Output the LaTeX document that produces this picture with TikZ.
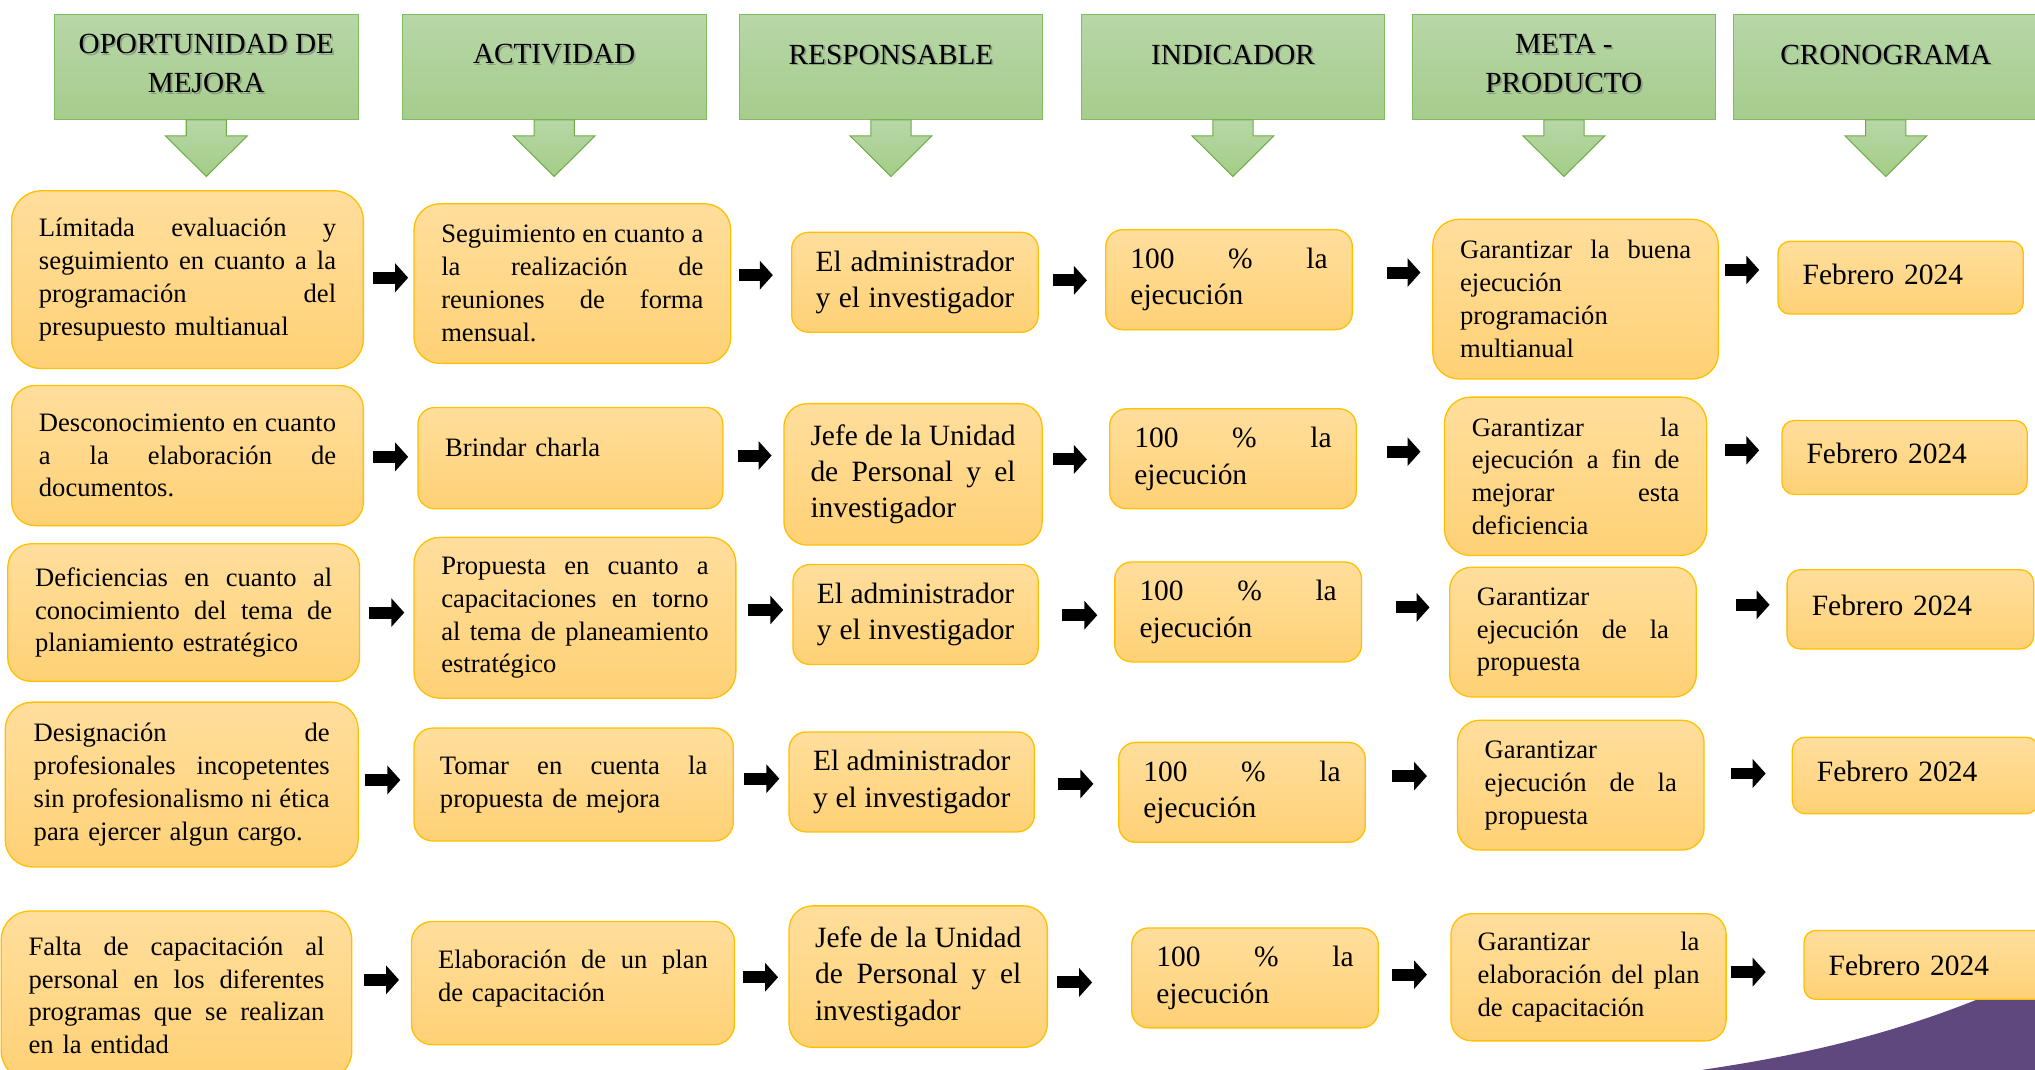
\documentclass[tikz,border=0pt]{standalone}
\usepackage{fontspec}
\setmainfont{Liberation Serif}
\usetikzlibrary{arrows.meta}
\definecolor{hdrtop}{RGB}{183,215,167}
\definecolor{hdrbot}{RGB}{166,204,141}
\definecolor{hdrline}{RGB}{128,188,98}
\definecolor{arrfill}{RGB}{163,205,134}
\definecolor{arrline}{RGB}{112,173,71}
\definecolor{boxtop}{RGB}{255,222,156}
\definecolor{boxbot}{RGB}{255,209,118}
\definecolor{boxline}{RGB}{255,192,0}
\definecolor{deco}{RGB}{94,72,125}
\hyphenpenalty=10000
\exhyphenpenalty=10000
\newcommand{\jl}[1]{\makebox[\hsize][s]{\spaceskip=0.25em plus 1fil minus 0.08em\relax #1}\\}
\newcommand{\jlast}[1]{\makebox[\hsize][s]{\spaceskip=0.25em plus 1fil minus 0.08em\relax #1}}
\begin{document}
\begin{tikzpicture}[x=1pt,y=-1pt,
  hdr/.style={draw=hdrline, line width=0.8pt, top color=hdrtop, bottom color=hdrbot, minimum width=234pt, minimum height=81pt, inner sep=0pt},
  hdrtxt/.style={align=center, font=\fontsize{22.5}{30}\selectfont},
  hdrshd/.style={hdrtxt, text=black!55, opacity=0.55},
  down/.style={draw=arrline, line width=0.8pt, top color=hdrtop, bottom color=arrfill},
  obox/.style={draw=boxline, line width=1pt, top color=boxtop, bottom color=boxbot, inner sep=0pt, align=left, font=\fontsize{20.5}{25.3}\selectfont},
  bigtxt/.style={font=\fontsize{22.7}{28}\selectfont},
  conn/.style={line width=9.2pt, -{Triangle[length=10pt,width=21.6pt]}}]
\useasboundingbox (0,0) rectangle (1568,824);
\clip (0,0) rectangle (1568,824);
% fondo
\fill[deco] (1300,826) .. controls (1400,812) and (1480,792) .. (1570,750) -- (1570,826) -- cycle;
% encabezados
\node[hdr] (h1) at (159,51.5) {};
\node[hdr] (h2) at (427,51.5) {};
\node[hdr] (h3) at (686.5,51.5) {};
\node[hdr] (h4) at (950,51.5) {};
\node[hdr] (h5) at (1205,51.5) {};
\node[hdr] (h6) at (1453,51.5) {};
\draw[down] ([xshift=-15.5pt]h1.south) -- ++(0,12.3) -- ++(-16,0) -- ++(31.5,31.3) -- ++(31.5,-31.3) -- ++(-16,0) -- ++(0,-12.3) -- cycle;
\draw[down] ([xshift=-15.5pt]h2.south) -- ++(0,12.3) -- ++(-16,0) -- ++(31.5,31.3) -- ++(31.5,-31.3) -- ++(-16,0) -- ++(0,-12.3) -- cycle;
\draw[down] ([xshift=-15.5pt]h3.south) -- ++(0,12.3) -- ++(-16,0) -- ++(31.5,31.3) -- ++(31.5,-31.3) -- ++(-16,0) -- ++(0,-12.3) -- cycle;
\draw[down] ([xshift=-15.5pt]h4.south) -- ++(0,12.3) -- ++(-16,0) -- ++(31.5,31.3) -- ++(31.5,-31.3) -- ++(-16,0) -- ++(0,-12.3) -- cycle;
\draw[down] ([xshift=-15.5pt]h5.south) -- ++(0,12.3) -- ++(-16,0) -- ++(31.5,31.3) -- ++(31.5,-31.3) -- ++(-16,0) -- ++(0,-12.3) -- cycle;
\draw[down] ([xshift=-15.5pt]h6.south) -- ++(0,12.3) -- ++(-16,0) -- ++(31.5,31.3) -- ++(31.5,-31.3) -- ++(-16,0) -- ++(0,-12.3) -- cycle;
\node[hdrshd] (s1) at (160.3,50.5) {OPORTUNIDAD DE\\MEJORA};
\node[hdrshd] (s2) at (428.3,43.5) {ACTIVIDAD};
\node[hdrshd] (s3) at (687.8,43.5) {RESPONSABLE};
\node[hdrshd] (s4) at (951.3,43.5) {INDICADOR};
\node[hdrshd] (s5) at (1206.3,50.5) {META -\\PRODUCTO};
\node[hdrshd] (s6) at (1454.3,43.5) {CRONOGRAMA};
\node[hdrtxt] (t1) at (159,49) {OPORTUNIDAD DE\\MEJORA};
\node[hdrtxt] (t2) at (427,42) {ACTIVIDAD};
\node[hdrtxt] (t3) at (686.5,42) {RESPONSABLE};
\node[hdrtxt] (t4) at (950,42) {INDICADOR};
\node[hdrtxt] (t5) at (1205,49) {META -\\PRODUCTO};
\node[hdrtxt] (t6) at (1453,42) {CRONOGRAMA};
% fila 1
\node[obox, minimum width=271pt, minimum height=137pt, text width=229pt, rounded corners=23pt] (a1) at (144.5,215.5) {\jl{Límitada evaluación y}\jl{seguimiento en cuanto a la}\jl{programación del}presupuesto multianual};
\node[obox, minimum width=244pt, minimum height=123pt, text width=202pt, rounded corners=20pt] (b1) at (441,218.5) {\jl{Seguimiento en cuanto a}\jl{la realización de}\jl{reuniones de forma}mensual.};
\node[obox, bigtxt, minimum width=190pt, minimum height=77pt, text width=153pt, rounded corners=13pt] (c1) at (705,217.5) {\jl{El administrador}\jlast{y el investigador}};
\node[obox, bigtxt, minimum width=190pt, minimum height=77pt, text width=152pt, rounded corners=13pt] (d1) at (947,215.5) {\jl{100 \% la}ejecución};
\node[obox, minimum width=220pt, minimum height=123pt, text width=178pt, rounded corners=20pt] (e1) at (1214,230.5) {\jl{Garantizar la buena}ejecución\\programación\\multianual};
\node[obox, bigtxt, minimum width=189pt, minimum height=56pt, text width=151pt, rounded corners=9pt] (f1) at (1464.5,214) {Febrero 2024\\[-22pt]\mbox{}};
% fila 2
\node[obox, minimum width=271pt, minimum height=108pt, text width=229pt, rounded corners=18pt] (a2) at (144.5,351) {\jl{Desconocimiento en cuanto}\jl{a la elaboración de}documentos.};
\node[obox, minimum width=235pt, minimum height=78pt, text width=193pt, rounded corners=13pt] (b2) at (439.5,353) {Brindar charla\\[-8pt]\mbox{}};
\node[obox, bigtxt, minimum width=199pt, minimum height=109pt, text width=158pt, rounded corners=18pt] (c2) at (703.5,365.5) {\jl{Jefe de la Unidad}\jl{de Personal y el}investigador};
\node[obox, bigtxt, minimum width=190pt, minimum height=77pt, text width=152pt, rounded corners=13pt] (d2) at (950,353.5) {\jl{100 \% la}ejecución};
\node[obox, minimum width=202pt, minimum height=122pt, text width=160pt, rounded corners=20pt] (e2) at (1214,367) {\jl{Garantizar la}\jl{ejecución a fin de}\jl{mejorar esta}deficiencia};
\node[obox, bigtxt, minimum width=189pt, minimum height=57pt, text width=151pt, rounded corners=9.5pt] (f2) at (1467.5,352.5) {Febrero 2024\\[-22pt]\mbox{}};
% fila 3
\node[obox, minimum width=271pt, minimum height=106pt, text width=229pt, rounded corners=18pt] (a3) at (141.5,472) {\jl{Deficiencias en cuanto al}\jl{conocimiento del tema de}planiamiento estratégico};
\node[obox, minimum width=248pt, minimum height=124pt, text width=206pt, rounded corners=20pt] (b3) at (443,476) {\jl{Propuesta en cuanto a}\jl{capacitaciones en torno}\jl{al tema de planeamiento}estratégico};
\node[obox, bigtxt, minimum width=189pt, minimum height=77pt, text width=152pt, rounded corners=13pt] (c3) at (705.5,473.5) {\jl{El administrador}\jlast{y el investigador}};
\node[obox, bigtxt, minimum width=190pt, minimum height=77pt, text width=152pt, rounded corners=13pt] (d3) at (954,471.5) {\jl{100 \% la}ejecución};
\node[obox, minimum width=190pt, minimum height=100pt, text width=148pt, rounded corners=17pt] (e3) at (1212,487) {Garantizar\\ \jl{ejecución de la}propuesta};
\node[obox, bigtxt, minimum width=190pt, minimum height=61pt, text width=152pt, rounded corners=10pt] (f3) at (1472,469.5) {Febrero 2024\\[-22pt]\mbox{}};
% fila 4
\node[obox, minimum width=272pt, minimum height=127pt, text width=228pt, rounded corners=21pt] (a4) at (140,604.5) {\jl{Designación de}\jl{profesionales incopetentes}\jl{sin profesionalismo ni ética}para ejercer algun cargo.};
\node[obox, minimum width=246pt, minimum height=87pt, text width=206pt, rounded corners=14.5pt] (b4) at (442,604.5) {\jl{Tomar en cuenta la}propuesta de mejora};
\node[obox, bigtxt, minimum width=189pt, minimum height=77pt, text width=152pt, rounded corners=13pt] (c4) at (702.5,602.5) {\jl{El administrador}\jlast{y el investigador}};
\node[obox, bigtxt, minimum width=190pt, minimum height=77pt, text width=152pt, rounded corners=13pt] (d4) at (957,610.5) {\jl{100 \% la}ejecución};
\node[obox, minimum width=190pt, minimum height=100pt, text width=148pt, rounded corners=17pt] (e4) at (1218,605) {Garantizar\\ \jl{ejecución de la}propuesta};
\node[obox, bigtxt, minimum width=190pt, minimum height=59pt, text width=152pt, rounded corners=10pt] (f4) at (1476,597.5) {Febrero 2024\\[-22pt]\mbox{}};
% fila 5
\node[obox, minimum width=270pt, minimum height=130pt, text width=228pt, rounded corners=22pt] (a5) at (136,767) {\jl{Falta de capacitación al}\jl{personal en los diferentes}\jl{programas que se realizan}en la entidad};
\node[obox, minimum width=249pt, minimum height=95pt, text width=208pt, rounded corners=16pt] (b5) at (441.5,757.5) {\jl{Elaboración de un plan}de capacitación\\[-14pt]\mbox{}};
\node[obox, bigtxt, minimum width=199pt, minimum height=109pt, text width=159pt, rounded corners=18pt] (c5) at (707.5,752.5) {\jl{Jefe de la Unidad}\jl{de Personal y el}investigador};
\node[obox, bigtxt, minimum width=190pt, minimum height=77pt, text width=152pt, rounded corners=13pt] (d5) at (967,753.5) {\jl{100 \% la}ejecución};
\node[obox, minimum width=212pt, minimum height=98pt, text width=171pt, rounded corners=16pt] (e5) at (1224,753) {\jl{Garantizar la}\jl{elaboración del plan}de capacitación};
\node[obox, bigtxt, minimum width=190pt, minimum height=53pt, text width=152pt, rounded corners=9pt] (f5) at (1485,743.5) {Febrero 2024};
% flechas
\draw[conn, shorten <=7pt, shorten >=4pt] (a1.east |- 0,214) -- (b1.west |- 0,214);
\draw[conn, shorten <=6pt, shorten >=14pt] (b1.east |- 0,212) -- (c1.west |- 0,212);
\draw[conn, shorten <=11pt, shorten >=14pt] (c1.east |- 0,216) -- (d1.west |- 0,216);
\draw[conn, shorten <=26pt, shorten >=9pt] (d1.east |- 0,210) -- (e1.west |- 0,210);
\draw[conn, shorten <=5pt, shorten >=14pt] (e1.east |- 0,208) -- (f1.west |- 0,208);
\draw[conn, shorten <=7pt, shorten >=7pt] (a2.east |- 0,352) -- (b2.west |- 0,352);
\draw[conn, shorten <=11pt, shorten >=9pt] (b2.east |- 0,351) -- (c2.west |- 0,351);
\draw[conn, shorten <=8pt, shorten >=17pt] (c2.east |- 0,354) -- (d2.west |- 0,354);
\draw[conn, shorten <=23pt, shorten >=18pt] (d2.east |- 0,348) -- (e2.west |- 0,348);
\draw[conn, shorten <=14pt, shorten >=17pt] (e2.east |- 0,347) -- (f2.west |- 0,347);
\draw[conn, shorten <=7pt, shorten >=7pt] (a3.east |- 0,472) -- (b3.west |- 0,472);
\draw[conn, shorten <=9pt, shorten >=7pt] (b3.east |- 0,470) -- (c3.west |- 0,470);
\draw[conn, shorten <=18pt, shorten >=13pt] (c3.east |- 0,474) -- (d3.west |- 0,474);
\draw[conn, shorten <=26pt, shorten >=15pt] (d3.east |- 0,468) -- (e3.west |- 0,468);
\draw[conn, shorten <=30pt, shorten >=13pt] (e3.east |- 0,466) -- (f3.west |- 0,466);
\draw[conn, shorten <=5pt, shorten >=10pt] (a4.east |- 0,601) -- (b4.west |- 0,601);
\draw[conn, shorten <=8pt, shorten >=7pt] (b4.east |- 0,600) -- (c4.west |- 0,600);
\draw[conn, shorten <=18pt, shorten >=19pt] (c4.east |- 0,604) -- (d4.west |- 0,604);
\draw[conn, shorten <=20pt, shorten >=23pt] (d4.east |- 0,598) -- (e4.west |- 0,598);
\draw[conn, shorten <=20pt, shorten >=20pt] (e4.east |- 0,596) -- (f4.west |- 0,596);
\draw[conn, shorten <=9pt, shorten >=9pt] (a5.east |- 0,755) -- (b5.west |- 0,755);
\draw[conn, shorten <=6pt, shorten >=8pt] (b5.east |- 0,753) -- (c5.west |- 0,753);
\draw[conn, shorten <=7pt, shorten >=30pt] (c5.east |- 0,757) -- (d5.west |- 0,757);
\draw[conn, shorten <=10pt, shorten >=18pt] (d5.east |- 0,751) -- (e5.west |- 0,751);
\draw[conn, shorten <=3pt, shorten >=29pt] (e5.east |- 0,749) -- (f5.west |- 0,749);
\end{tikzpicture}
\end{document}
